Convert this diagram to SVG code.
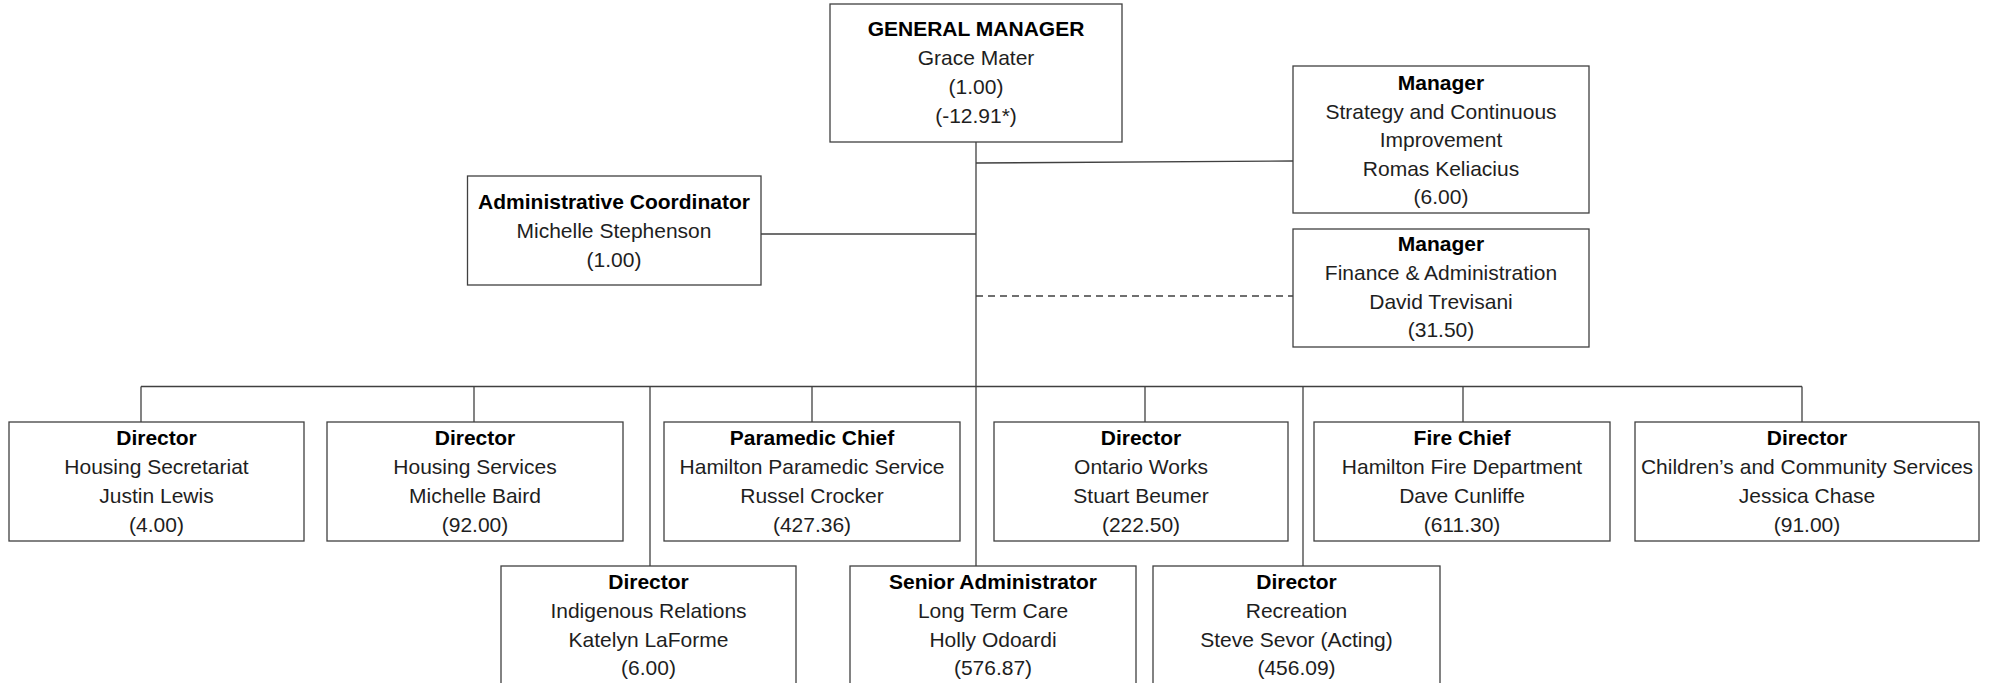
<svg xmlns="http://www.w3.org/2000/svg" width="1995" height="683" viewBox="0 0 1995 683">
<style>
.box{fill:#fff;stroke:#404040;stroke-width:1.3}
.ln{fill:none;stroke:#404040;stroke-width:1.3}
.dash{stroke-dasharray:7 5}
text{font-family:"Liberation Sans",Arial,sans-serif;font-size:21px;text-anchor:middle;fill:#1e1e1e}
.b{font-weight:bold;fill:#000}
</style>
<rect width="1995" height="683" fill="#fff"/>
<g id="connectors">
<line class="ln" x1="976" y1="142" x2="976" y2="566"/>
<line class="ln" x1="976" y1="163" x2="1293" y2="161"/>
<line class="ln" x1="761" y1="234" x2="976" y2="234"/>
<line class="ln dash" x1="976" y1="296" x2="1293" y2="296"/>
<line class="ln" x1="141" y1="386.5" x2="1802" y2="386.5"/>
<line class="ln" x1="141" y1="386.5" x2="141" y2="422"/>
<line class="ln" x1="474" y1="386.5" x2="474" y2="422"/>
<line class="ln" x1="812" y1="386.5" x2="812" y2="422"/>
<line class="ln" x1="1145" y1="386.5" x2="1145" y2="422"/>
<line class="ln" x1="1463" y1="386.5" x2="1463" y2="422"/>
<line class="ln" x1="1802" y1="386.5" x2="1802" y2="422"/>
<line class="ln" x1="650" y1="386.5" x2="650" y2="566"/>
<line class="ln" x1="1303" y1="386.5" x2="1303" y2="566"/>
</g>
<g id="gm">
<rect class="box" x="830" y="4" width="292" height="138"/>
<text class="b" x="976" y="36">GENERAL MANAGER</text>
<text x="976" y="65">Grace Mater</text>
<text x="976" y="94">(1.00)</text>
<text x="976" y="123">(-12.91*)</text>
</g>
<g id="strategy">
<rect class="box" x="1293" y="66" width="296" height="147"/>
<text class="b" x="1441" y="90">Manager</text>
<text x="1441" y="118.5">Strategy and Continuous</text>
<text x="1441" y="147">Improvement</text>
<text x="1441" y="175.5">Romas Keliacius</text>
<text x="1441" y="204">(6.00)</text>
</g>
<g id="admin">
<rect class="box" x="467.5" y="176" width="293.5" height="109"/>
<text class="b" x="614" y="208.5">Administrative Coordinator</text>
<text x="614" y="237.5">Michelle Stephenson</text>
<text x="614" y="266.5">(1.00)</text>
</g>
<g id="finance">
<rect class="box" x="1293" y="229" width="296" height="118"/>
<text class="b" x="1441" y="251">Manager</text>
<text x="1441" y="280">Finance &amp; Administration</text>
<text x="1441" y="309">David Trevisani</text>
<text x="1441" y="337">(31.50)</text>
</g>
<g id="housing-secretariat">
<rect class="box" x="9" y="422" width="295" height="119"/>
<text class="b" x="156.5" y="445">Director</text>
<text x="156.5" y="474">Housing Secretariat</text>
<text x="156.5" y="503">Justin Lewis</text>
<text x="156.5" y="532">(4.00)</text>
</g>
<g id="housing-services">
<rect class="box" x="327" y="422" width="296" height="119"/>
<text class="b" x="475" y="445">Director</text>
<text x="475" y="474">Housing Services</text>
<text x="475" y="503">Michelle Baird</text>
<text x="475" y="532">(92.00)</text>
</g>
<g id="paramedic">
<rect class="box" x="664" y="422" width="296" height="119"/>
<text class="b" x="812" y="445">Paramedic Chief</text>
<text x="812" y="474">Hamilton Paramedic Service</text>
<text x="812" y="503">Russel Crocker</text>
<text x="812" y="532">(427.36)</text>
</g>
<g id="ontario-works">
<rect class="box" x="994" y="422" width="294" height="119"/>
<text class="b" x="1141" y="445">Director</text>
<text x="1141" y="474">Ontario Works</text>
<text x="1141" y="503">Stuart Beumer</text>
<text x="1141" y="532">(222.50)</text>
</g>
<g id="fire">
<rect class="box" x="1314" y="422" width="296" height="119"/>
<text class="b" x="1462" y="445">Fire Chief</text>
<text x="1462" y="474">Hamilton Fire Department</text>
<text x="1462" y="503">Dave Cunliffe</text>
<text x="1462" y="532">(611.30)</text>
</g>
<g id="childrens">
<rect class="box" x="1635" y="422" width="344" height="119"/>
<text class="b" x="1807" y="445">Director</text>
<text x="1807" y="474">Children’s and Community Services</text>
<text x="1807" y="503">Jessica Chase</text>
<text x="1807" y="532">(91.00)</text>
</g>
<g id="indigenous">
<rect class="box" x="501" y="566" width="295" height="119"/>
<text class="b" x="648.5" y="589">Director</text>
<text x="648.5" y="618">Indigenous Relations</text>
<text x="648.5" y="647">Katelyn LaForme</text>
<text x="648.5" y="675">(6.00)</text>
</g>
<g id="long-term-care">
<rect class="box" x="850" y="566" width="286" height="119"/>
<text class="b" x="993" y="589">Senior Administrator</text>
<text x="993" y="618">Long Term Care</text>
<text x="993" y="647">Holly Odoardi</text>
<text x="993" y="675">(576.87)</text>
</g>
<g id="recreation">
<rect class="box" x="1153" y="566" width="287" height="119"/>
<text class="b" x="1296.5" y="589">Director</text>
<text x="1296.5" y="618">Recreation</text>
<text x="1296.5" y="647">Steve Sevor (Acting)</text>
<text x="1296.5" y="675">(456.09)</text>
</g>
</svg>
